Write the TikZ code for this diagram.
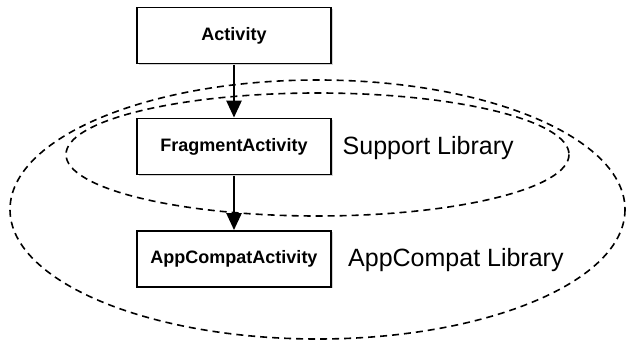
\documentclass[tikz,border=0pt]{standalone}
\usepackage{fontspec}
\setmainfont{Liberation Sans}
\usetikzlibrary{arrows.meta,shadows}
\begin{document}
\begin{tikzpicture}[x=1pt,y=-1pt,
  cls/.style={draw=black,line width=1.8pt,fill=white,minimum width=194pt,minimum height=56pt,inner sep=0pt,
    font=\fontsize{18}{20}\selectfont\bfseries,
    drop shadow={opacity=0.35,shadow xshift=1.5pt,shadow yshift=-1.5pt}},
  lib/.style={font=\fontsize{25}{28}\selectfont,anchor=west,inner sep=0pt},
  region/.style={draw=black,line width=1.6pt,dash pattern=on 7pt off 5pt},
  arr/.style={line width=2.6pt,-{Triangle[width=15pt,length=17pt]},shorten <=0.5pt}]
\useasboundingbox (0,0) rectangle (626,344);
\draw[region] (317.5,209.5) ellipse [x radius=307.5, y radius=129.5];
\draw[region] (317.5,154.5) ellipse [x radius=251.5, y radius=61.5];
\node[cls] (act) at (234,35.5) {Activity};
\node[cls] (frag) at (234,146.5) {FragmentActivity};
\node[cls] (app) at (234,259) {AppCompatActivity};
\node[lib] (sup) at (342.5,148) {Support Library};
\node[lib] (acl) at (348,260) {AppCompat Library};
\draw[arr] (act) -- (frag);
\draw[arr] (frag) -- (app);
\end{tikzpicture}
\end{document}
